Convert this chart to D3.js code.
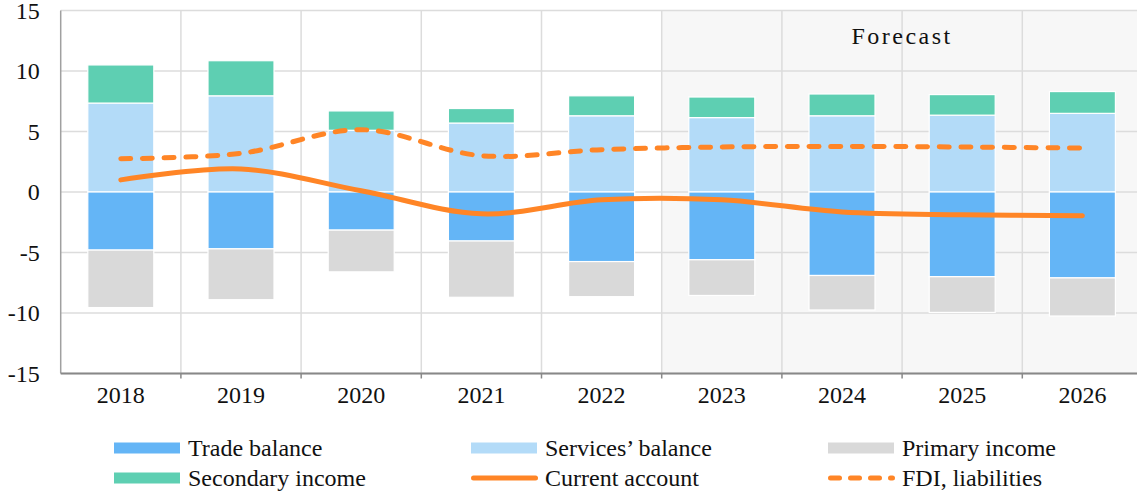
<!DOCTYPE html>
<html><head><meta charset="utf-8">
<script src="https://cdn.jsdelivr.net/npm/d3@7"></script>
<style>
html,body{margin:0;padding:0;background:#fff;}
svg{display:block;}
svg text{font-family:"Liberation Serif","Times New Roman",Times,Tinos,"DejaVu Serif",serif !important;}
</style></head>
<body><svg id="chart" width="1137" height="493"></svg>
<script>
const years = ["2018","2019","2020","2021","2022","2023","2024","2025","2026"];
const tradeBalance   = [-4.8, -4.7, -3.15, -4.05, -5.75, -5.6, -6.9, -7.0, -7.1];
const servicesBalance= [7.35, 7.95, 5.1, 5.7, 6.3, 6.15, 6.3, 6.35, 6.5];
const primaryIncome  = [-4.75, -4.2, -3.45, -4.65, -2.9, -2.95, -2.85, -2.95, -3.15];
const secondaryIncome= [3.15, 2.9, 1.6, 1.2, 1.65, 1.7, 1.8, 1.7, 1.8];
const currentAccount = [1.0, 1.9, 0.1, -1.8, -0.65, -0.65, -1.65, -1.88, -1.96];
const fdiLiabilities = [2.75, 3.2, 5.15, 3.0, 3.5, 3.72, 3.77, 3.72, 3.63];
const yTicks = [-15,-10,-5,0,5,10,15];
const forecastStart = "2023";
const forecastLabel = "Forecast";

const C = {trade:"#64b5f6", services:"#b3dbf8", primary:"#d9d9d9", secondary:"#5ecfb2", orange:"#ff8526"};

const svg = d3.select("#chart");
const pL = 60.7, pR = 1142.5, pT = 10.5, pB = 373.5;
const x = d3.scaleBand().domain(years).range([pL, pR]).paddingInner(0).paddingOuter(0);
const y = d3.scaleLinear().domain([-15, 15]).range([pB, pT]);
const bw = 66;

// forecast background
svg.append("rect").attr("x", x(forecastStart)).attr("y", pT)
  .attr("width", 1137 - x(forecastStart)).attr("height", pB - pT).attr("fill", "#f7f7f7");

// grid
const grid = svg.append("g");
grid.selectAll("line.h").data(yTicks).join("line")
  .attr("x1", pL).attr("x2", 1137).attr("y1", d => y(d)).attr("y2", d => y(d))
  .attr("stroke", "#dcdcdc").attr("stroke-width", 1.5);
grid.selectAll("line.v").data(years.slice(1)).join("line")
  .attr("x1", d => x(d)).attr("x2", d => x(d)).attr("y1", pT).attr("y2", pB)
  .attr("stroke", "#dcdcdc").attr("stroke-width", 1.5);

// bars
function seg(vals, base, color) {
  svg.append("g").selectAll("rect").data(years).join("rect")
    .attr("x", d => x(d) + x.bandwidth()/2 - bw/2).attr("width", bw)
    .attr("y", (d,i) => Math.min(y(base[i]), y(base[i] + vals[i])))
    .attr("height", (d,i) => Math.abs(y(base[i]) - y(base[i] + vals[i])))
    .attr("fill", color).attr("stroke", "#fff").attr("stroke-width", 1.2);
}
const zeros = years.map(() => 0);
seg(servicesBalance, zeros, C.services);
seg(secondaryIncome, servicesBalance, C.secondary);
seg(tradeBalance, zeros, C.trade);
seg(primaryIncome, tradeBalance, C.primary);

// lines
const cx = d => x(d) + x.bandwidth()/2;
const line = d3.line().x((d,i) => cx(years[i])).y(d => y(d)).curve(d3.curveCatmullRom.alpha(0.5));
svg.append("path").attr("d", line(fdiLiabilities)).attr("fill","none")
  .attr("stroke", C.orange).attr("stroke-width", 5).attr("stroke-linecap","round")
  .attr("stroke-dasharray", "10,11.7");
svg.append("path").attr("d", line(currentAccount)).attr("fill","none")
  .attr("stroke", C.orange).attr("stroke-width", 5).attr("stroke-linecap","round");

// axes
svg.append("line").attr("x1", pL).attr("x2", pL).attr("y1", pT).attr("y2", pB)
  .attr("stroke", "#a0a0a0").attr("stroke-width", 1.5);
const xAxis = svg.append("g").attr("transform", `translate(0,${pB})`)
  .call(d3.axisBottom(x).tickSize(0).tickPadding(0));
xAxis.attr("font-family", null);
xAxis.select(".domain").remove();
xAxis.append("line").attr("x1", pL).attr("x2", 1137).attr("stroke", "#888").attr("stroke-width", 2);
xAxis.selectAll("line.bt").data(years.slice(1)).join("line").attr("class","bt")
  .attr("x1", d => x(d)).attr("x2", d => x(d)).attr("y1", 0).attr("y2", 5)
  .attr("stroke", "#888").attr("stroke-width", 1.5);
xAxis.selectAll(".tick text").attr("y", 29).attr("dy", null)
  .attr("font-size", 24).attr("fill", "#111");

const yAxis = svg.append("g").attr("transform", `translate(${pL},0)`)
  .call(d3.axisLeft(y).tickValues(yTicks).tickFormat(d => String(d)).tickSize(0).tickPadding(21));
yAxis.attr("font-family", null);
yAxis.select(".domain").remove();
yAxis.selectAll(".tick text").attr("font-size", 24).attr("fill", "#111").attr("dy", "0.32em");

// forecast label
svg.append("text").attr("x", (x(forecastStart) + pR)/2).attr("y", 44)
  .attr("text-anchor", "middle").attr("font-size", 24).attr("letter-spacing", 2.5)
  .attr("fill", "#111").text(forecastLabel);

// legend
const legendItems = [
  {name:"Trade balance", type:"rect", color:C.trade},
  {name:"Services\u2019 balance", type:"rect", color:C.services},
  {name:"Primary income", type:"rect", color:C.primary},
  {name:"Secondary income", type:"rect", color:C.secondary},
  {name:"Current account", type:"line", color:C.orange},
  {name:"FDI, liabilities", type:"dash", color:C.orange}
];
const lg = svg.append("g");
legendItems.forEach((it, i) => {
  const col = i % 3, row = Math.floor(i / 3);
  const lx = 114 + col * 357, ly = 448 + row * 30;
  if (it.type === "rect") {
    lg.append("rect").attr("x", lx).attr("y", ly - 5.5).attr("width", 66).attr("height", 11).attr("fill", it.color);
  } else {
    lg.append("line").attr("x1", lx + 2.5).attr("x2", lx + 64.5).attr("y1", ly).attr("y2", ly)
      .attr("stroke", it.color).attr("stroke-width", 5).attr("stroke-linecap", "round")
      .attr("stroke-dasharray", it.type === "dash" ? "9,11" : null);
  }
  lg.append("text").attr("x", lx + 74).attr("y", ly + 8).attr("font-size", 24)
    .attr("fill", "#111").text(it.name);
});
</script></body></html>
